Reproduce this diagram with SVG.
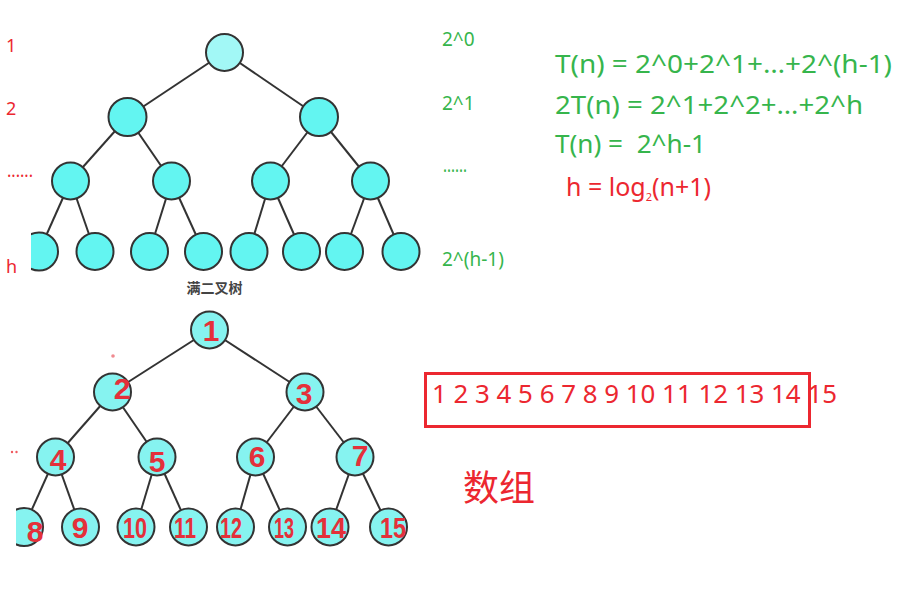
<svg xmlns="http://www.w3.org/2000/svg" width="919" height="606" viewBox="0 0 919 606">
<defs>
<clipPath id="clipTop"><rect x="31" y="0" width="450" height="300"/></clipPath>
<clipPath id="clipBot"><rect x="16" y="300" width="420" height="280"/></clipPath>
<style>
.edge{stroke:#333;stroke-width:2;fill:none}
.nt{fill:#63f5f1;stroke:#333;stroke-width:2}
.nt0{fill:#a2f8f6;stroke:#333;stroke-width:2}
.nb{fill:#86f3f0;stroke:#333;stroke-width:2}
.red{fill:#ec2730;font-family:"Noto Sans","Open Sans",sans-serif}
.green{fill:#36b54c;font-family:"Noto Sans","Open Sans",sans-serif}
.hw{fill:#e4303a;font-family:"Liberation Sans","DejaVu Sans",sans-serif;font-weight:bold;font-size:30px;text-anchor:middle}
</style>
</defs>
<rect width="919" height="606" fill="#fff"/>

<!-- Top tree -->
<g clip-path="url(#clipTop)">
<g id="top-edges">
<line class="edge" x1="224.5" y1="52.5" x2="127.5" y2="117"/>
<line class="edge" x1="224.5" y1="52.5" x2="319" y2="117"/>
<line class="edge" x1="127.5" y1="117" x2="70.5" y2="181"/>
<line class="edge" x1="127.5" y1="117" x2="171.5" y2="181"/>
<line class="edge" x1="319" y1="117" x2="270.5" y2="181"/>
<line class="edge" x1="319" y1="117" x2="370.5" y2="181"/>
<line class="edge" x1="70.5" y1="181" x2="39" y2="251.5"/>
<line class="edge" x1="70.5" y1="181" x2="95" y2="251.5"/>
<line class="edge" x1="171.5" y1="181" x2="149.5" y2="251.5"/>
<line class="edge" x1="171.5" y1="181" x2="203.5" y2="251.5"/>
<line class="edge" x1="270.5" y1="181" x2="249" y2="251.5"/>
<line class="edge" x1="270.5" y1="181" x2="301.5" y2="251.5"/>
<line class="edge" x1="370.5" y1="181" x2="344.5" y2="251.5"/>
<line class="edge" x1="370.5" y1="181" x2="401" y2="251.5"/>
</g>
<g id="t1"><circle class="nt0" cx="224.5" cy="52.5" r="18.5"/></g>
<g id="t2"><circle class="nt" cx="127.5" cy="117" r="19"/></g>
<g id="t3"><circle class="nt" cx="319" cy="117" r="19"/></g>
<g id="t4"><circle class="nt" cx="70.5" cy="181" r="18.5"/></g>
<g id="t5"><circle class="nt" cx="171.5" cy="181" r="18.5"/></g>
<g id="t6"><circle class="nt" cx="270.5" cy="181" r="18.5"/></g>
<g id="t7"><circle class="nt" cx="370.5" cy="181" r="18.5"/></g>
<g id="t8"><circle class="nt" cx="39" cy="251.5" r="19"/></g>
<g id="t9"><circle class="nt" cx="95" cy="251.5" r="18.5"/></g>
<g id="t10"><circle class="nt" cx="149.5" cy="251.5" r="18.5"/></g>
<g id="t11"><circle class="nt" cx="203.5" cy="251.5" r="18.5"/></g>
<g id="t12"><circle class="nt" cx="249" cy="251.5" r="18.5"/></g>
<g id="t13"><circle class="nt" cx="301.5" cy="251.5" r="18.5"/></g>
<g id="t14"><circle class="nt" cx="344.5" cy="251.5" r="18.5"/></g>
<g id="t15"><circle class="nt" cx="401" cy="251.5" r="18.5"/></g>
</g>
<text x="214.5" y="293" text-anchor="middle" font-family="'Noto Sans CJK SC',sans-serif" font-weight="bold" font-size="14" fill="#444">满二叉树</text>

<!-- Left level labels -->
<text class="red" x="6" y="52" font-size="18">1</text>
<text class="red" x="6" y="115" font-size="18">2</text>
<text class="red" x="7" y="177" font-size="18" textLength="26" lengthAdjust="spacingAndGlyphs">......</text>
<text class="red" x="6" y="273" font-size="18">h</text>

<!-- Right level counts -->
<text class="green" x="442" y="46" font-size="19">2^0</text>
<text class="green" x="442" y="110" font-size="19">2^1</text>
<text class="green" x="443" y="172" font-size="19" textLength="24" lengthAdjust="spacingAndGlyphs">......</text>
<text class="green" x="442" y="266" font-size="19">2^(h-1)</text>

<!-- Formulas -->
<text class="green" x="555" y="73" font-size="26" textLength="337" lengthAdjust="spacingAndGlyphs">T(n) = 2^0+2^1+…+2^(h-1)</text>
<text class="green" x="555" y="114" font-size="26" textLength="308" lengthAdjust="spacingAndGlyphs">2T(n) = 2^1+2^2+…+2^h</text>
<text class="green" x="555" y="153" font-size="26" xml:space="preserve" textLength="151" lengthAdjust="spacingAndGlyphs">T(n) =  2^h-1</text>
<text class="red" x="566" y="196" font-size="25">h = log<tspan font-size="11" dy="5">2</tspan><tspan dy="-5">(n+1)</tspan></text>

<!-- Bottom tree -->
<g clip-path="url(#clipBot)">
<g id="bottom-edges">
<line class="edge" x1="209.5" y1="330" x2="112.5" y2="392"/>
<line class="edge" x1="209.5" y1="330" x2="305" y2="392"/>
<line class="edge" x1="112.5" y1="392" x2="55.5" y2="457"/>
<line class="edge" x1="112.5" y1="392" x2="157" y2="457"/>
<line class="edge" x1="305" y1="392" x2="255.5" y2="457"/>
<line class="edge" x1="305" y1="392" x2="355" y2="457"/>
<line class="edge" x1="55.5" y1="457" x2="24" y2="527"/>
<line class="edge" x1="55.5" y1="457" x2="80.5" y2="527"/>
<line class="edge" x1="157" y1="457" x2="136" y2="527"/>
<line class="edge" x1="157" y1="457" x2="188.5" y2="527"/>
<line class="edge" x1="255.5" y1="457" x2="235.5" y2="527"/>
<line class="edge" x1="255.5" y1="457" x2="287.5" y2="527"/>
<line class="edge" x1="355" y1="457" x2="330" y2="527"/>
<line class="edge" x1="355" y1="457" x2="388.5" y2="527"/>
</g>
<g id="b1"><circle class="nb" cx="209.5" cy="330" r="18.5"/><text class="hw" x="211" y="341" font-size="36">1</text></g>
<g id="b2"><circle class="nb" cx="112.5" cy="392" r="18.5"/><text class="hw" x="122" y="399">2</text></g>
<g id="b3"><circle class="nb" cx="305" cy="392" r="18.5"/><text class="hw" x="304" y="404">3</text></g>
<g id="b4"><circle class="nb" cx="55.5" cy="457" r="18.5"/><text class="hw" x="58" y="470" font-size="34">4</text></g>
<g id="b5"><circle class="nb" cx="157" cy="457" r="18.5"/><text class="hw" x="157" y="472" font-size="34">5</text></g>
<g id="b6"><circle class="nb" cx="255.5" cy="457" r="18.5"/><text class="hw" x="257" y="467">6</text></g>
<g id="b7"><circle class="nb" cx="355" cy="457" r="18.5"/><text class="hw" x="360" y="466">7</text></g>
<g id="b8"><circle class="nb" cx="24" cy="527" r="19"/><text class="hw" x="35" y="542">8</text></g>
<g id="b9"><circle class="nb" cx="80.5" cy="527" r="18.5"/><text class="hw" x="80" y="538">9</text></g>
<g id="b10"><circle class="nb" cx="136" cy="527" r="18.5"/><text class="hw" x="135" y="538" textLength="24" lengthAdjust="spacingAndGlyphs">10</text></g>
<g id="b11"><circle class="nb" cx="188.5" cy="527" r="18.5"/><text class="hw" x="185" y="538" textLength="22" lengthAdjust="spacingAndGlyphs">11</text></g>
<g id="b12"><circle class="nb" cx="235.5" cy="527" r="18.5"/><text class="hw" x="231" y="538" textLength="22" lengthAdjust="spacingAndGlyphs">12</text></g>
<g id="b13"><circle class="nb" cx="287.5" cy="527" r="18.5"/><text class="hw" x="284" y="538" textLength="20" lengthAdjust="spacingAndGlyphs">13</text></g>
<g id="b14"><circle class="nb" cx="330" cy="527" r="18.5"/><text class="hw" x="331" y="538" textLength="30" lengthAdjust="spacingAndGlyphs">14</text></g>
<g id="b15"><circle class="nb" cx="388.5" cy="527" r="18.5"/><text class="hw" x="393" y="538" textLength="26" lengthAdjust="spacingAndGlyphs">15</text></g>
</g>
<circle cx="113" cy="356" r="1.8" fill="#f08a90"/>
<circle cx="12" cy="452" r="1.2" fill="#f05a60"/>
<circle cx="16.5" cy="452" r="1.2" fill="#f05a60"/>

<!-- Array -->
<rect x="425.5" y="373.5" width="384" height="53" fill="none" stroke="#ec2730" stroke-width="3"/>
<text class="red" x="432" y="403" font-size="25" textLength="405" lengthAdjust="spacingAndGlyphs">1 2 3 4 5 6 7 8 9 10 11 12 13 14 15</text>
<text x="463" y="501" font-family="'Noto Sans CJK SC',sans-serif" font-size="36" fill="#ec2730">数组</text>
</svg>
